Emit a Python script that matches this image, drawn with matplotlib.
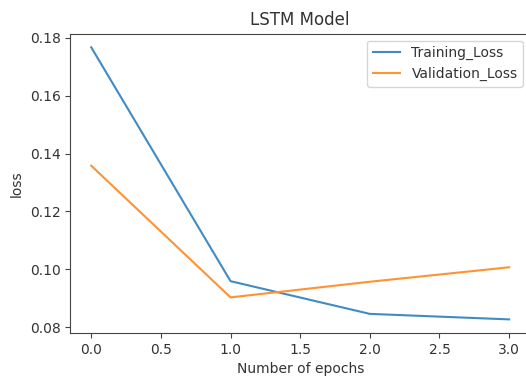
import matplotlib
matplotlib.use("Agg")
import matplotlib.pyplot as plt

epochs = [0, 1, 2, 3]
training_loss = [0.1767, 0.0959, 0.0846, 0.0827]
validation_loss = [0.1358, 0.0903, 0.0957, 0.1007]

plt.rcParams.update({
    "text.color": "#333333",
    "axes.labelcolor": "#333333",
    "axes.edgecolor": "#444444",
    "xtick.color": "#444444",
    "ytick.color": "#444444",
    "xtick.labelcolor": "#333333",
    "ytick.labelcolor": "#333333",
})

fig = plt.figure(figsize=(5.26, 3.76), dpi=100)
# the right spine sits just outside the saved image, as in the reference crop
ax = fig.add_axes([0.1337, 0.1144, 0.874, 0.796])
ax.plot(epochs, training_loss, color="#3f8bc6", label="Training_Loss")
ax.plot(epochs, validation_loss, color="#ff9233", label="Validation_Loss")
ax.set_title("LSTM Model")
ax.set_xlabel("Number of epochs")
ax.set_ylabel("loss")
ax.legend(loc="upper right")

fig.savefig("out.png", dpi=100)
